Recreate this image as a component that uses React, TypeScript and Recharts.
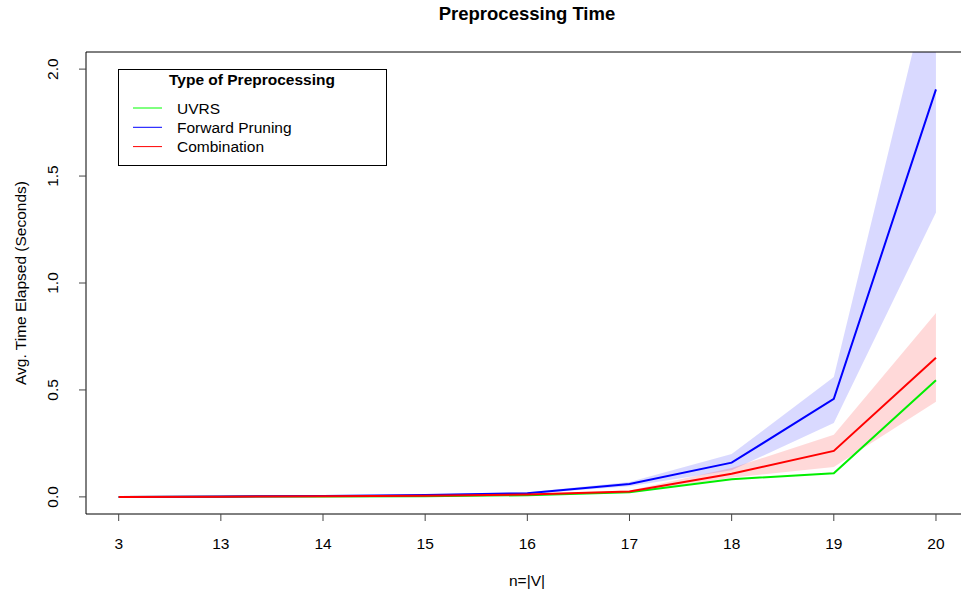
import React from 'react';
import { ComposedChart, Line, Area, XAxis, YAxis, ReferenceLine } from 'recharts';

// n = |V|
const nLabels = ['3', '13', '14', '15', '16', '17', '18', '19', '20'];

// mean times (seconds)
const uvrs = [0, 0.001, 0.002, 0.003, 0.008, 0.022, 0.083, 0.11, 0.545];
const forwardPruning = [0, 0.002, 0.004, 0.009, 0.017, 0.06, 0.16, 0.458, 1.905];
const combination = [0, 0.001, 0.003, 0.005, 0.011, 0.025, 0.108, 0.215, 0.65];

// bands
const forwardLow = [0, 0.001, 0.003, 0.007, 0.013, 0.05, 0.125, 0.345, 1.33];
const forwardHigh = [0, 0.003, 0.005, 0.011, 0.022, 0.07, 0.2, 0.56, 2.53];
const combinationLow = [0, 0.001, 0.002, 0.004, 0.009, 0.02, 0.09, 0.14, 0.445];
const combinationHigh = [0, 0.002, 0.004, 0.006, 0.014, 0.03, 0.135, 0.29, 0.86];

const yTicks = [0, 0.5, 1, 1.5, 2];
const Y_MIN = -0.08;
const Y_MAX = 2.08;

const legendItems = [
  { name: 'UVRS', color: '#00ff00' },
  { name: 'Forward Pruning', color: '#0000ff' },
  { name: 'Combination', color: '#ff0000' },
];

const FONT = '"Liberation Sans", Arial, Helvetica, sans-serif';

const data = nLabels.map((label, i) => ({
  i,
  label,
  uvrs: uvrs[i],
  forward: forwardPruning[i],
  combination: combination[i],
  forwardBand: [forwardLow[i], forwardHigh[i]],
  combinationBand: [combinationLow[i], combinationHigh[i]],
}));

const XTick = (props: any) => {
  const { x, payload } = props;
  return (
    <text x={x} y={549} textAnchor="middle" fontSize={15.5} fontFamily={FONT} fill="#000">
      {nLabels[payload.value]}
    </text>
  );
};

const YTick = (props: any) => {
  const { y, payload } = props;
  return (
    <text
      transform={`translate(58,${y}) rotate(-90)`}
      textAnchor="middle"
      fontSize={15.5}
      fontFamily={FONT}
      fill="#000"
    >
      {payload.value.toFixed(1)}
    </text>
  );
};

const App = () => {
  return (
    <div
      style={{
        position: 'absolute',
        left: 0,
        top: 0,
        width: 961,
        height: 594,
        overflow: 'hidden',
        background: '#fff',
      }}
    >
      <ComposedChart width={961} height={594} data={data} margin={{ top: 52, right: 0, bottom: 0, left: 0 }}>
        <XAxis
          type="number"
          dataKey="i"
          domain={[-0.32, 8.245]}
          ticks={[0, 1, 2, 3, 4, 5, 6, 7, 8]}
          allowDataOverflow
          height={80}
          tickSize={7}
          axisLine={{ stroke: '#000' }}
          tickLine={{ stroke: '#444' }}
          tick={<XTick />}
        />
        <YAxis
          type="number"
          domain={[Y_MIN, Y_MAX]}
          ticks={yTicks}
          allowDataOverflow
          width={86}
          tickSize={7}
          axisLine={{ stroke: '#000' }}
          tickLine={{ stroke: '#444' }}
          tick={<YTick />}
        />
        <ReferenceLine y={Y_MAX} stroke="#000" />
        <Area
          type="linear"
          dataKey="forwardBand"
          stroke="none"
          fill="#0000ff"
          fillOpacity={0.15}
          isAnimationActive={false}
          dot={false}
          activeDot={false}
        />
        <Area
          type="linear"
          dataKey="combinationBand"
          stroke="none"
          fill="#ff0000"
          fillOpacity={0.15}
          isAnimationActive={false}
          dot={false}
          activeDot={false}
        />
        <Line type="linear" dataKey="uvrs" stroke="#00ee00" strokeWidth={2} dot={false} activeDot={false} isAnimationActive={false} />
        <Line type="linear" dataKey="forward" stroke="#0000ff" strokeWidth={2} dot={false} activeDot={false} isAnimationActive={false} />
        <Line type="linear" dataKey="combination" stroke="#ff0000" strokeWidth={2} dot={false} activeDot={false} isAnimationActive={false} />
      </ComposedChart>

      <svg
        width={961}
        height={594}
        style={{ position: 'absolute', left: 0, top: 0, pointerEvents: 'none' }}
        fontFamily={FONT}
      >
        <text x={527} y={20} textAnchor="middle" fontSize={18.5} fontWeight="bold" fill="#000">
          Preprocessing Time
        </text>
        <text x={527} y={586} textAnchor="middle" fontSize={15.5} fill="#000">
          n=|V|
        </text>
        <text transform="translate(26,283) rotate(-90)" textAnchor="middle" fontSize={15.5} fill="#000">
          Avg. Time Elapsed (Seconds)
        </text>

        <rect x={118.5} y={69.5} width={268} height={96} fill="#fff" stroke="#000" strokeWidth={1} />
        <text x={252} y={85} textAnchor="middle" fontSize={15.5} fontWeight="bold" fill="#000">
          Type of Preprocessing
        </text>
        {legendItems.map((item, k) => (
          <g key={item.name}>
            <line x1={133} x2={162} y1={108 + k * 19.3} y2={108 + k * 19.3} stroke={item.color} strokeWidth={1} />
            <text x={177} y={113.5 + k * 19.3} fontSize={15.5} fill="#000">
              {item.name}
            </text>
          </g>
        ))}
      </svg>
    </div>
  );
};

export default App;
